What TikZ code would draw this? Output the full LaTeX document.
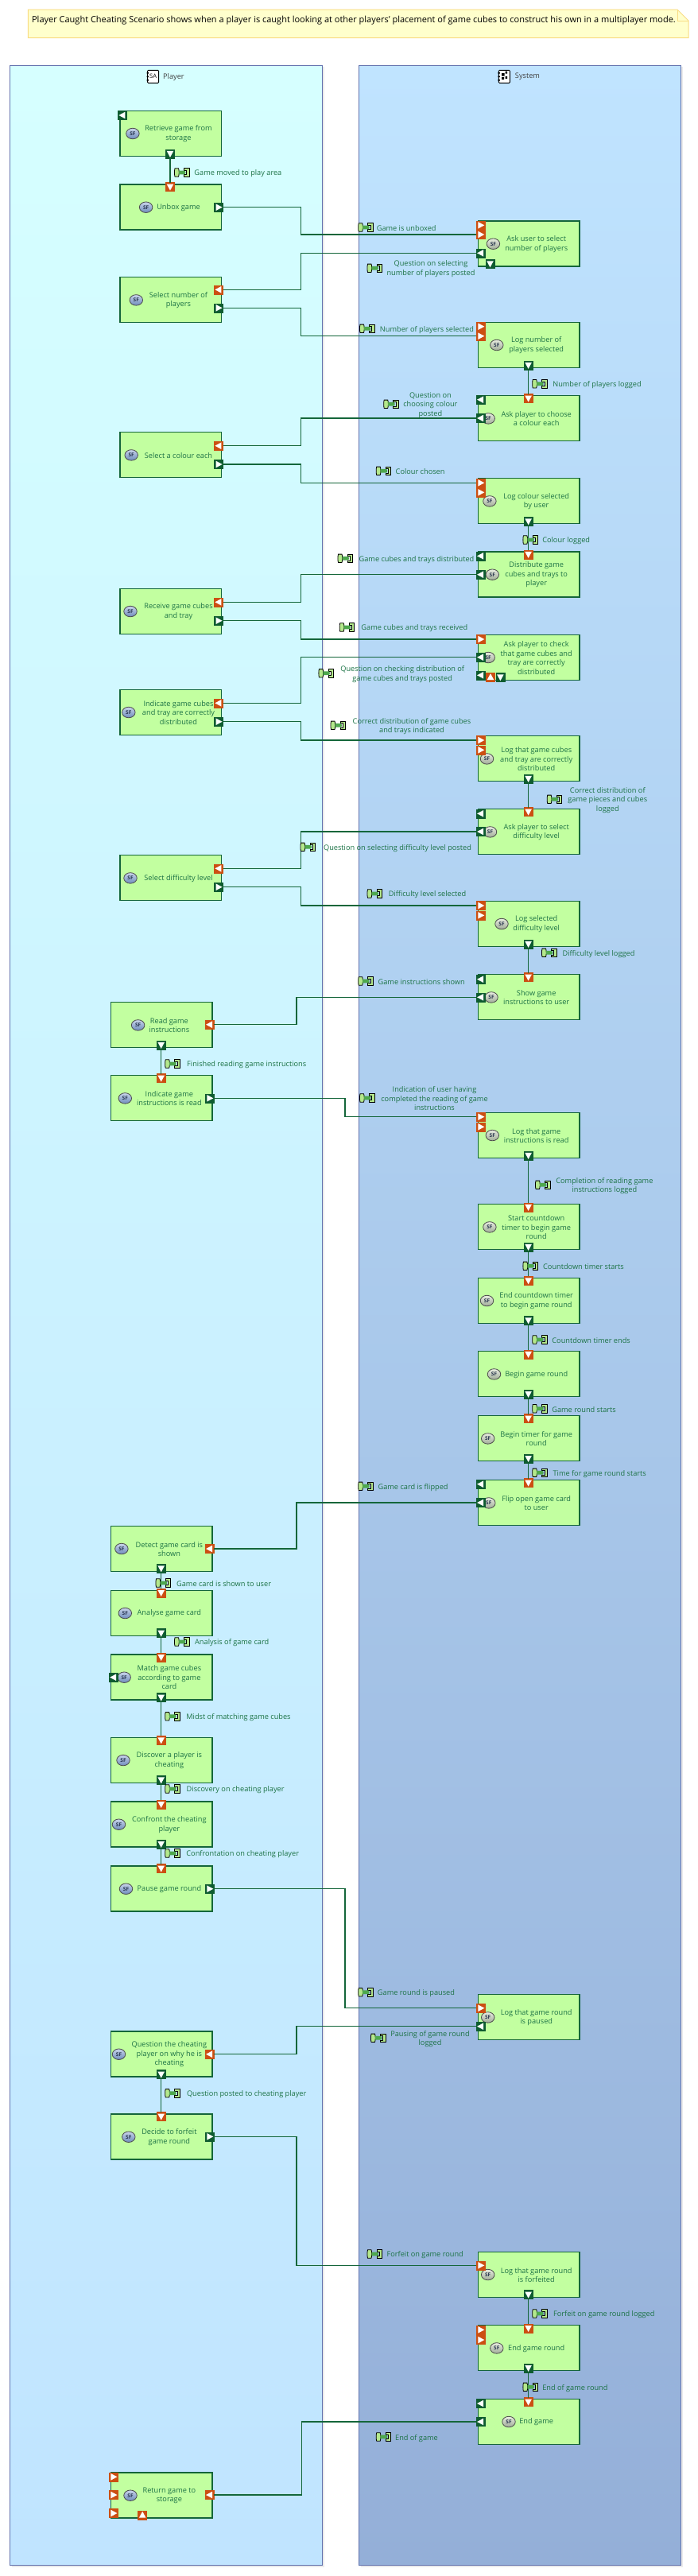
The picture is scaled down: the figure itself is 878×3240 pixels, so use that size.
\documentclass[tikz,border=0pt]{standalone}
\usepackage{fontspec}
\setmainfont{Open Sans}
\usetikzlibrary{shapes.geometric}
\definecolor{boxfill}{HTML}{C2FFA0}
\definecolor{boxline}{HTML}{14663A}
\definecolor{txt}{HTML}{1D7346}
\definecolor{portout}{HTML}{0E5C30}
\definecolor{portin}{HTML}{CC4F12}
\definecolor{panelline}{HTML}{6272AE}
\definecolor{conn}{HTML}{14663A}
\definecolor{ptop}{HTML}{D6FFFF}
\definecolor{pbot}{HTML}{C0E4FF}
\definecolor{stop}{HTML}{C0E4FF}
\definecolor{sbot}{HTML}{94AFD8}
\definecolor{notefill}{HTML}{FFFFCC}
\definecolor{noteline}{HTML}{F8DC84}
\definecolor{flowl}{HTML}{B4E88C}
\definecolor{flowm}{HTML}{4EA84E}
\definecolor{iconpt}{HTML}{C8D4EA}
\definecolor{iconpb}{HTML}{6E8CBC}
\definecolor{iconst}{HTML}{E8ECE0}
\definecolor{iconsb}{HTML}{A0AC98}
\definecolor{icontx}{HTML}{26344E}
\tikzset{
  fnbox/.style={draw=boxline,fill=boxfill,line width=1.2pt,minimum width=127.5pt,minimum height=57pt,inner sep=0pt,outer sep=0pt,anchor=north west},
  fntext/.style={text=txt,align=center,inner sep=0pt,font=\fontsize{9.2}{11.5}\selectfont},
  flowtext/.style={text=txt,align=center,inner sep=0pt,font=\fontsize{9.2}{11.5}\selectfont},
  sficon/.style={ellipse,draw=black!70,line width=.8pt,inner sep=0pt,outer sep=0pt,minimum width=16.5pt,minimum height=13.5pt,text=icontx,font=\fontsize{6.5}{7}\selectfont\bfseries},
  portbase/.style={rectangle,minimum size=11pt,inner sep=0pt,outer sep=0pt,line width=.5pt},
  connline/.style={draw=conn,line width=1.1pt},
  titletext/.style={text=black!75,inner sep=0pt,font=\fontsize{9.2}{11}\selectfont},
  bookicon/.style={draw=black,fill=white,rounded corners=1pt,line width=.9pt,minimum width=14pt,minimum height=16pt,inner sep=0pt,outer sep=0pt,font=\fontsize{7.5}{8}\selectfont}
}
\newcommand\fnP[5]{%
  \node[fnbox] (#1) at (#2,#3) {};
  \node[fntext] (#1-t) at (#2+73.5,#3+29) {#5};
  \node[sficon,top color=iconpt,bottom color=iconpb] (#1-i) at (#4,#3+28.7) {SF};
}
\newcommand\fnS[5]{%
  \node[fnbox] (#1) at (#2,#3) {};
  \node[fntext] (#1-t) at (#2+73.2,#3+29) {#5};
  \node[sficon,top color=iconst,bottom color=iconsb] (#1-i) at (#4,#3+28.7) {SF};
}
\newcommand\port[5]{%
  \node[portbase,fill=#4,draw=#4] (#1) at (#2,#3) {};
  \fill[white] ([shift={(#5:4.6pt)}]#1.center) -- ([shift={(#5+128:5.4pt)}]#1.center) -- ([shift={(#5-128:5.4pt)}]#1.center) -- cycle;
}
\newcommand\hconn[3]{%
  \coordinate (elbow) at (#3,0);
  \draw[connline] (#1.east) -- (#1.east -| elbow) -- (#2.west -| elbow) -- (#2.west);
}
\newcommand\vconn[2]{\draw[connline] (#1.south) -- (#2.north);}
\newcommand\flow[6]{%
  \begin{scope}[shift={(#2,#3)}]
    \filldraw[fill=flowl,draw=black,line width=.8pt] (-9,-5.2) -- (-4.5,-5.2) .. controls (-3.5,-3) and (-3.5,3) .. (-4.5,5.2) -- (-9,5.2) .. controls (-9.7,3) and (-9.7,-3) .. (-9,-5.2) -- cycle;
    \filldraw[fill=flowl,draw=black,line width=.8pt] (2.5,-5.2) -- (9,-5.2) -- (9,5.2) -- (2.5,5.2) -- (2.5,2.6) -- (5.8,2.6) -- (5.8,-2.6) -- (2.5,-2.6) -- cycle;
    \fill[flowm] (-4,-2.4) -- (3,-2.4) .. controls (5,-2) and (5,2) .. (3,2.4) -- (-4,2.4) -- cycle;
  \end{scope}
  \node[flowtext] (#1) at (#4,#5) {#6};
}
\begin{document}
\begin{tikzpicture}[x=1pt,y=-1pt]
\useasboundingbox (0,0) rectangle (878,3240);
% note
\filldraw[fill=notefill,draw=noteline,line width=1pt] (35.3,12) -- (852,12) -- (866,26) -- (866,47.7) -- (35.3,47.7) -- cycle;
\draw[noteline,line width=.8pt] (852,12) -- (852,26) -- (866,26);
\node[text=black,inner sep=0pt,font=\fontsize{11}{12}\selectfont] (note) at (445,26) {Player Caught Cheating Scenario shows when a player is caught looking at other players' placement of game cubes to construct his own in a multiplayer mode.};
% panels
\fill[black!8] (14.5,84) rectangle (408,3228.5);
\fill[black!8] (453.5,84) rectangle (858.5,3228.5);
\shade[top color=ptop,bottom color=pbot,draw=panelline,line width=1pt] (12.3,82) rectangle (405.4,3226);
\shade[top color=stop,bottom color=sbot,draw=panelline,line width=1pt] (451.5,82) rectangle (856,3226);
% panel titles
\node[bookicon] (picon) at (192.6,96.3) {SA};
\node[titletext] (ptitle) at (218.4,96.7) {Player};
\node[bookicon] (sicon) at (634.4,96.3) {};
\fill[black] (631,92) rectangle (634.5,95.5) (635.5,89.5) rectangle (638,92.5) (635.5,96) rectangle (638,99) (631,97) rectangle (634,100);
\node[titletext] (stitle) at (663.5,96.7) {System};
\fill[black] (184.5,91) rectangle (187,92.5) (184.5,95.5) rectangle (187,97) (184.5,100) rectangle (187,101.5);
\fill[black] (626.3,91) rectangle (628.8,92.5) (626.3,95.5) rectangle (628.8,97) (626.3,100) rectangle (628.8,101.5);
% player boxes
\fnP{retrieve}{151}{139.3}{166.9}{Retrieve game from\\storage}
\fnP{unbox}{151}{232}{183.6}{Unbox game}
\fnP{selnum}{151}{348.7}{171.3}{Select number of\\players}
\fnP{selcol}{151}{543.7}{165.2}{Select a colour each}
\fnP{receive}{151}{740.3}{164}{Receive game cubes\\and tray}
\fnP{indicate}{151}{867.3}{161.8}{Indicate game cubes\\and tray are correctly\\distributed}
\fnP{seldiff}{151}{1075.7}{164}{Select difficulty level}
\fnP{readi}{139.4}{1260.7}{173.6}{Read game\\instructions}
\fnP{indinstr}{139.4}{1352.7}{157.3}{Indicate game\\instructions is read}
\fnP{detect}{139.4}{1919.3}{152.9}{Detect game card is\\shown}
\fnP{analyse}{139.4}{2000.3}{157.3}{Analyse game card}
\fnP{matchc}{139.4}{2081}{156.2}{Match game cubes\\according to game\\card}
\fnP{discover}{139.4}{2185.3}{155}{Discover a player is\\cheating}
\fnP{confront}{139.4}{2266}{149.5}{Confront the cheating\\player}
\fnP{pausegr}{139.4}{2347}{158.5}{Pause game round}
\fnP{question}{139.4}{2555}{149.5}{Question the cheating\\player on why he is\\cheating}
\fnP{decide}{139.4}{2659}{161.8}{Decide to forfeit\\game round}
\fnP{returng}{139.4}{3110}{164}{Return game to\\storage}
% system boxes
\fnS{askuser}{601.5}{278}{620.4}{Ask user to select\\number of players}
\fnS{lognum}{601.5}{405.3}{624.8}{Log number of\\players selected}
\fnS{askcol}{601.5}{497.7}{614.2}{Ask player to choose\\a colour each}
\fnS{logcol}{601.5}{601.7}{615.9}{Log colour selected\\by user}
\fnS{distrib}{601.5}{694}{619.3}{Distribute game\\cubes and trays to\\player}
\fnS{askcheck}{601.5}{798.3}{614.2}{Ask player to check\\that game cubes and\\tray are correctly\\distributed}
\fnS{logcubes}{601.5}{925.7}{612.5}{Log that game cubes\\and tray are correctly\\distributed}
\fnS{askdiff}{601.5}{1017.7}{616.5}{Ask player to select\\difficulty level}
\fnS{logsel}{601.5}{1133.3}{631}{Log selected\\difficulty level}
\fnS{showi}{601.5}{1225.7}{618}{Show game\\instructions to user}
\fnS{loginstr}{601.5}{1399.3}{619.3}{Log that game\\instructions is read}
\fnS{startcd}{601.5}{1514.7}{615.9}{Start countdown\\timer to begin game\\round}
\fnS{endcd}{601.5}{1607.3}{612.5}{End countdown timer\\to begin game round}
\fnS{begingr}{601.5}{1699.7}{621.5}{Begin game round}
\fnS{begintm}{601.5}{1780.7}{613.7}{Begin timer for game\\round}
\fnS{flip}{601.5}{1861.7}{614.8}{Flip open game card\\to user}
\fnS{logpaused}{601.5}{2508.7}{613.7}{Log that game round\\is paused}
\fnS{logforf}{601.5}{2832.3}{613.7}{Log that game round\\is forfeited}
\fnS{endround}{601.5}{2924.7}{624.8}{End game round}
\fnS{endgame}{601.5}{3017.3}{640}{End game}
% ports
\port{retrieve-a}{154}{145}{portout}{180}
\port{retrieve-b}{214}{193.3}{portout}{270}
\port{unbox-t}{214}{235}{portin}{270}
\port{unbox-r}{275}{260.7}{portout}{0}
\port{selnum-a}{275}{364.3}{portin}{180}
\port{selnum-b}{275}{387.3}{portout}{0}
\port{askuser-a}{604.7}{283.3}{portin}{0}
\port{askuser-b}{604.7}{295}{portin}{0}
\port{askuser-c}{604.7}{318.3}{portout}{180}
\port{askuser-d}{616.5}{331.7}{portout}{270}
\port{lognum-a}{604.7}{410.7}{portin}{0}
\port{lognum-b}{604.7}{422.7}{portin}{0}
\port{lognum-d}{664.6}{459.3}{portout}{270}
\port{askcol-a}{604.7}{502.7}{portout}{180}
\port{askcol-t}{664.6}{501}{portin}{270}
\port{askcol-b}{604.7}{526}{portout}{180}
\port{selcol-a}{275}{560.7}{portin}{180}
\port{selcol-b}{275}{584}{portout}{0}
\port{logcol-a}{604.7}{607.3}{portin}{0}
\port{logcol-b}{604.7}{619.3}{portin}{0}
\port{logcol-d}{664.6}{655.7}{portout}{270}
\port{distrib-t}{664.6}{697.3}{portin}{270}
\port{distrib-a}{604.7}{699.3}{portout}{180}
\port{distrib-b}{604.7}{722.7}{portout}{180}
\port{receive-a}{275}{757.3}{portin}{180}
\port{receive-b}{275}{780.7}{portout}{0}
\port{askcheck-a}{604.7}{804}{portin}{0}
\port{askcheck-b}{604.7}{826.7}{portout}{180}
\port{askcheck-c}{604.7}{849.3}{portout}{180}
\port{askcheck-d}{617}{851.7}{portin}{90}
\port{askcheck-e}{629.4}{851.7}{portout}{270}
\port{indicate-a}{275}{884.3}{portin}{180}
\port{indicate-b}{275}{907.7}{portout}{0}
\port{logcubes-a}{604.7}{931}{portin}{0}
\port{logcubes-b}{604.7}{943.3}{portin}{0}
\port{logcubes-d}{664.6}{979.3}{portout}{270}
\port{askdiff-t}{664.6}{1021}{portin}{270}
\port{askdiff-a}{604.7}{1023.3}{portout}{180}
\port{askdiff-b}{604.7}{1046}{portout}{180}
\port{seldiff-a}{275}{1092.3}{portin}{180}
\port{seldiff-b}{275}{1115.7}{portout}{0}
\port{logsel-a}{604.7}{1139}{portin}{0}
\port{logsel-b}{604.7}{1151.3}{portin}{0}
\port{logsel-d}{664.6}{1187.3}{portout}{270}
\port{showi-t}{664.6}{1229}{portin}{270}
\port{showi-a}{604.7}{1231.7}{portout}{180}
\port{showi-b}{604.7}{1254.3}{portout}{180}
\port{readi-r}{263.7}{1288.7}{portin}{180}
\port{readi-d}{202.7}{1314.3}{portout}{270}
\port{indinstr-t}{202.7}{1356}{portin}{270}
\port{indinstr-r}{263.7}{1381.3}{portout}{0}
\port{loginstr-a}{604.7}{1404.7}{portin}{0}
\port{loginstr-b}{604.7}{1417.3}{portin}{0}
\port{loginstr-d}{664.6}{1453.3}{portout}{270}
\port{startcd-t}{664.6}{1518.3}{portin}{270}
\port{startcd-d}{664.6}{1568.3}{portout}{270}
\port{endcd-t}{664.6}{1610.7}{portin}{270}
\port{endcd-d}{664.6}{1660.7}{portout}{270}
\port{begingr-t}{664.6}{1703.3}{portin}{270}
\port{begingr-d}{664.6}{1753.3}{portout}{270}
\port{begintm-t}{664.6}{1784}{portin}{270}
\port{begintm-d}{664.6}{1834.3}{portout}{270}
\port{flip-t}{664.6}{1865}{portin}{270}
\port{flip-a}{604.7}{1866.7}{portout}{180}
\port{flip-b}{604.7}{1890}{portout}{180}
\port{detect-r}{263.7}{1948}{portin}{180}
\port{detect-d}{202.7}{1972.7}{portout}{270}
\port{analyse-t}{202.7}{2003.3}{portin}{270}
\port{analyse-d}{202.7}{2054}{portout}{270}
\port{matchc-t}{202.7}{2084.3}{portin}{270}
\port{matchc-l}{142.8}{2109.7}{portout}{180}
\port{matchc-d}{202.7}{2135}{portout}{270}
\port{discover-t}{202.7}{2188.7}{portin}{270}
\port{discover-d}{202.7}{2238.7}{portout}{270}
\port{confront-t}{202.7}{2269.3}{portin}{270}
\port{confront-d}{202.7}{2319.3}{portout}{270}
\port{pausegr-t}{202.7}{2350}{portin}{270}
\port{pausegr-r}{263.7}{2375.7}{portout}{0}
\port{logpaused-a}{604.7}{2525.7}{portin}{0}
\port{logpaused-b}{604.7}{2548.7}{portout}{180}
\port{question-r}{263.7}{2583.7}{portin}{180}
\port{question-d}{202.7}{2609}{portout}{270}
\port{decide-t}{202.7}{2662}{portin}{270}
\port{decide-r}{263.7}{2687.3}{portout}{0}
\port{logforf-a}{604.7}{2849.3}{portin}{0}
\port{logforf-d}{664.6}{2886}{portout}{270}
\port{endround-t}{664.6}{2928.3}{portin}{270}
\port{endround-a}{604.7}{2930.3}{portin}{0}
\port{endround-b}{604.7}{2943}{portin}{0}
\port{endround-d}{664.6}{2978.3}{portout}{270}
\port{endgame-t}{664.6}{3021}{portin}{270}
\port{endgame-a}{604.7}{3023}{portout}{180}
\port{endgame-b}{604.7}{3046}{portout}{180}
\port{returng-a}{142.8}{3115.3}{portin}{0}
\port{returng-b}{142.8}{3138}{portin}{0}
\port{returng-c}{142.8}{3161}{portin}{0}
\port{returng-d}{179.2}{3163.3}{portin}{90}
\port{returng-r}{263.7}{3138}{portin}{180}
% horizontal connectors
\hconn{unbox-r}{askuser-b}{378.5}
\hconn{selnum-a}{askuser-c}{378.5}
\hconn{selnum-b}{lognum-b}{378.5}
\hconn{selcol-a}{askcol-b}{378.5}
\hconn{selcol-b}{logcol-a}{378.5}
\hconn{receive-a}{distrib-b}{378.5}
\hconn{receive-b}{askcheck-a}{378.5}
\hconn{indicate-a}{askcheck-b}{378.5}
\hconn{indicate-b}{logcubes-a}{378.5}
\hconn{seldiff-a}{askdiff-b}{378.5}
\hconn{seldiff-b}{logsel-a}{378.5}
\hconn{readi-r}{showi-b}{373}
\hconn{indinstr-r}{loginstr-a}{434}
\hconn{detect-r}{flip-b}{373}
\hconn{pausegr-r}{logpaused-a}{434}
\hconn{question-r}{logpaused-b}{373}
\hconn{decide-r}{logforf-a}{373}
\hconn{returng-r}{endgame-b}{379.6}
% vertical connectors
\vconn{retrieve-b}{unbox-t}
\vconn{lognum-d}{askcol-t}
\vconn{logcol-d}{distrib-t}
\vconn{logcubes-d}{askdiff-t}
\vconn{logsel-d}{showi-t}
\vconn{readi-d}{indinstr-t}
\vconn{loginstr-d}{startcd-t}
\vconn{startcd-d}{endcd-t}
\vconn{endcd-d}{begingr-t}
\vconn{begingr-d}{begintm-t}
\vconn{begintm-d}{flip-t}
\vconn{detect-d}{analyse-t}
\vconn{analyse-d}{matchc-t}
\vconn{matchc-d}{discover-t}
\vconn{discover-d}{confront-t}
\vconn{confront-d}{pausegr-t}
\vconn{question-d}{decide-t}
\vconn{logforf-d}{endround-t}
\vconn{endround-d}{endgame-t}
% flow labels
\flow{f01}{229}{217}{299.4}{217.7}{Game moved to play area}
\flow{f02}{460.2}{286}{511.2}{287.3}{Game is unboxed}
\flow{f03}{471.5}{337.3}{542}{338.3}{Question on selecting\\number of players posted}
\flow{f04}{462}{413.3}{537}{414.7}{Number of players selected}
\flow{f05}{679.2}{482.7}{751}{484}{Number of players logged}
\flow{f06}{492.2}{508.3}{541.4}{509.7}{Question on\\choosing colour\\posted}
\flow{f07}{482.7}{592.3}{528.6}{593.3}{Colour chosen}
\flow{f08}{667.4}{679}{712.2}{680.3}{Colour logged}
\flow{f09}{434.5}{702.3}{524}{703.7}{Game cubes and trays distributed}
\flow{f10}{436.7}{789}{521.3}{790.3}{Game cubes and trays received}
\flow{f11}{410.4}{846.7}{506.2}{848.3}{Question on checking distribution of\\game cubes and trays posted}
\flow{f12}{425.5}{912.3}{518}{913.7}{Correct distribution of game cubes\\and trays indicated}
\flow{f13}{697.7}{1005.3}{764.3}{1006.3}{Correct distribution of\\game pieces and cubes\\logged}
\flow{f14}{387.5}{1065.3}{500}{1066.7}{Question on selecting difficulty level posted}
\flow{f15}{471.5}{1124}{537.5}{1125.3}{Difficulty level selected}
\flow{f16}{691}{1198.3}{753}{1199.7}{Difficulty level logged}
\flow{f17}{460.2}{1234}{530.2}{1235.3}{Game instructions shown}
\flow{f18}{217.2}{1338}{310.2}{1339.3}{Finished reading game instructions}
\flow{f19}{462}{1381}{546.5}{1382}{Indication of user having\\completed the reading of game\\instructions}
\flow{f20}{683}{1490.3}{760.4}{1491.7}{Completion of reading game\\instructions logged}
\flow{f21}{667.4}{1592.3}{734}{1593.3}{Countdown timer starts}
\flow{f22}{679.2}{1685}{743.6}{1686}{Countdown timer ends}
\flow{f23}{679.2}{1771.7}{734.6}{1773}{Game round starts}
\flow{f24}{679.2}{1852.3}{754.2}{1853.7}{Time for game round starts}
\flow{f25}{460.2}{1869.3}{519.6}{1871}{Game card is flipped}
\flow{f26}{205.5}{1991}{281.6}{1992.3}{Game card is shown to user}
\flow{f27}{229}{2065}{291.7}{2066.3}{Analysis of game card}
\flow{f28}{217.2}{2158.7}{300}{2160}{Midst of matching game cubes}
\flow{f29}{217.2}{2250}{296.2}{2251.3}{Discovery on cheating player}
\flow{f30}{217.2}{2331}{305.2}{2332.3}{Confrontation on cheating player}
\flow{f31}{460.2}{2505.7}{523.5}{2507}{Game round is paused}
\flow{f32}{476}{2563.3}{541}{2564.7}{Pausing of game round\\logged}
\flow{f33}{217.2}{2632.7}{310.2}{2634}{Question posted to cheating player}
\flow{f34}{471.5}{2835}{534.7}{2836.3}{Forfeit on game round}
\flow{f35}{679.2}{2910}{759.8}{2911.3}{Forfeit on game round logged}
\flow{f36}{667.4}{3002.3}{723.4}{3003.7}{End of game round}
\flow{f37}{482.7}{3065}{524}{3066.7}{End of game}
\end{tikzpicture}
\end{document}
